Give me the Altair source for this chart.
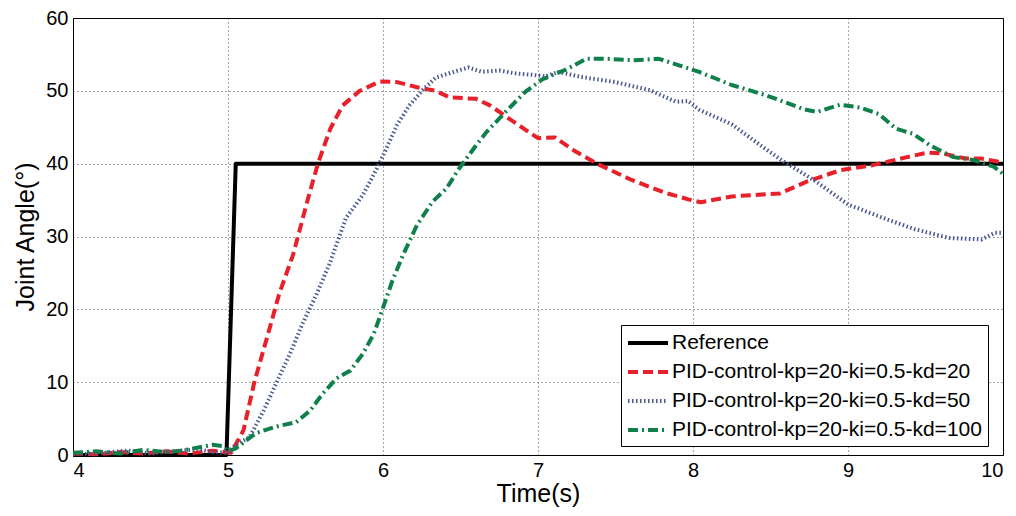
import altair as alt
import pandas as pd

# ---- data ----
ref_t = [4.0, 4.99, 5.05, 10.0]
ref_y = [0.0, 0.0, 40.0, 40.0]

kd20_t = [4.0, 4.15, 4.3, 4.45, 4.6, 4.75, 4.9, 4.97, 5.02, 5.10, 5.17, 5.27, 5.33, 5.42, 5.46,
          5.52, 5.58, 5.66, 5.74, 5.85, 5.98, 6.09, 6.22, 6.34, 6.43, 6.6, 6.69, 6.86, 7.0, 7.11,
          7.24, 7.39, 7.6, 7.82, 7.97, 8.05, 8.25, 8.47, 8.56, 8.73, 8.95, 9.16, 9.38, 9.51, 9.61,
          9.76, 9.86, 9.99]
kd20_y = [0.2, 0.1, 0.4, 0.2, 0.5, 0.2, 0.6, 0.4, 0.3, 3.4, 10.0, 17.5, 22.1, 27.5, 30.7,
          35.5, 40.0, 44.8, 48.0, 50.0, 51.3, 51.2, 50.5, 50.0, 49.1, 48.9, 48.0, 45.5, 43.5, 43.6,
          41.7, 39.9, 37.8, 36.0, 35.1, 34.7, 35.5, 35.8, 35.9, 37.5, 39.1, 39.8, 40.9, 41.5, 41.4,
          40.7, 40.7, 40.2]

kd50_t = [4.0, 4.2, 4.35, 4.5, 4.65, 4.8, 4.9, 5.0, 5.03, 5.14, 5.23, 5.31, 5.40, 5.48, 5.57,
          5.66, 5.76, 5.87, 5.96, 6.02, 6.09, 6.17, 6.26, 6.34, 6.47, 6.55, 6.64, 6.75, 6.85, 6.96,
          7.05, 7.13, 7.28, 7.5, 7.72, 7.89, 7.97, 8.04, 8.25, 8.45, 8.57, 8.79, 9.0, 9.22, 9.43,
          9.65, 9.86, 9.95, 10.0]
kd50_y = [0.1, 0.3, 0.6, 0.2, 0.5, 0.8, 0.4, 0.3, 1.1, 2.5, 6.1, 9.8, 13.9, 18.0, 22.0,
          26.5, 32.5, 35.7, 39.3, 42.0, 45.3, 48.0, 50.2, 51.8, 52.7, 53.2, 52.6, 52.8, 52.4, 52.2,
          52.0, 52.6, 51.9, 51.2, 50.1, 48.5, 48.6, 47.4, 45.4, 42.3, 40.5, 37.6, 34.4, 32.6, 31.0,
          29.8, 29.6, 30.5, 30.5]

kd100_t = [4.0, 4.15, 4.3, 4.45, 4.6, 4.7, 4.8, 4.9, 4.97, 5.0, 5.05, 5.18, 5.31, 5.44, 5.53,
           5.61, 5.70, 5.79, 5.87, 5.94, 6.0, 6.06, 6.13, 6.22, 6.32, 6.41, 6.49, 6.60, 6.67, 6.79,
           6.92, 7.03, 7.18, 7.31, 7.44, 7.61, 7.78, 7.91, 8.04, 8.25, 8.47, 8.56, 8.71, 8.80, 8.95,
           9.08, 9.20, 9.31, 9.42, 9.53, 9.68, 9.81, 9.94, 10.0]
kd100_y = [0.3, 0.5, 0.2, 0.7, 0.4, 0.6, 1.0, 1.4, 1.2, 0.5, 0.9, 3.0, 3.9, 4.5, 6.1,
           8.4, 10.5, 11.6, 13.9, 16.6, 20.2, 23.9, 27.5, 31.6, 34.8, 36.6, 39.3, 42.5, 44.4, 47.1,
           49.9, 51.6, 52.9, 54.4, 54.4, 54.2, 54.4, 53.5, 52.6, 50.8, 49.4, 48.7, 47.5, 47.1, 48.1,
           47.7, 46.8, 44.8, 44.1, 42.5, 40.9, 40.5, 39.6, 38.6]

series_names = ["Reference",
                "PID-control-kp=20-ki=0.5-kd=20",
                "PID-control-kp=20-ki=0.5-kd=50",
                "PID-control-kp=20-ki=0.5-kd=100"]
series_colors = ["#000000", "#e8202a", "#4a5890", "#10804a"]
series_dashes = [[1, 0], [10, 5], [1.5, 2.5], [10, 4, 2, 4]]
series_widths = [4, 4, 2, 4]

rows = []
for name, ts, ys in zip(series_names, [ref_t, kd20_t, kd50_t, kd100_t],
                        [ref_y, kd20_y, kd50_y, kd100_y]):
    for i, (t, y) in enumerate(zip(ts, ys)):
        rows.append({"series": name, "t": t, "y": y, "order": i})
df = pd.DataFrame(rows)

FONT = "Liberation Sans"

chart = alt.Chart(df).mark_line(strokeCap="butt", strokeJoin="round").encode(
    x=alt.X("t:Q", title="Time(s)",
            scale=alt.Scale(domain=[4, 10], nice=False, zero=False),
            axis=alt.Axis(values=[4, 5, 6, 7, 8, 9, 10], format="d")),
    y=alt.Y("y:Q", title="Joint Angle(°)",
            scale=alt.Scale(domain=[0, 60], nice=False),
            axis=alt.Axis(values=[0, 10, 20, 30, 40, 50, 60])),
    color=alt.Color("series:N", scale=alt.Scale(domain=series_names, range=series_colors),
                    legend=alt.Legend(title=None)),
    strokeDash=alt.StrokeDash("series:N", scale=alt.Scale(domain=series_names, range=series_dashes),
                              legend=alt.Legend(title=None)),
    strokeWidth=alt.StrokeWidth("series:N", scale=alt.Scale(domain=series_names, range=series_widths),
                                legend=None),
    order="order:Q",
).properties(
    width=930, height=437,
    autosize=alt.AutoSizeParams(type="none"),
    padding={"left": 65, "top": 10, "right": 5, "bottom": 53},
).configure_view(
    stroke="black", strokeWidth=1
).configure_axis(
    domain=False, ticks=False, grid=True,
    gridColor="black", gridDash=[1, 3], gridOpacity=0.7, gridWidth=1,
    labelFont=FONT, labelFontSize=20, labelColor="black",
    titleFont=FONT, titleFontSize=25, titleFontWeight="normal", titleColor="black",
    labelPadding=5,
).configure_axisX(
    titlePadding=1
).configure_axisY(
    titlePadding=7
).configure_legend(
    orient="none", legendX=548, legendY=307,
    fillColor="white", strokeColor="black", padding=6,
    labelFont=FONT, labelFontSize=21, labelColor="black", labelLimit=400,
    symbolType="M-2,0H2", symbolSize=400, symbolStrokeWidth=3.5,
    rowPadding=7, labelOffset=12, symbolOffset=9,
)

chart.save("out.html", embed_options={"renderer": "svg", "actions": False})
